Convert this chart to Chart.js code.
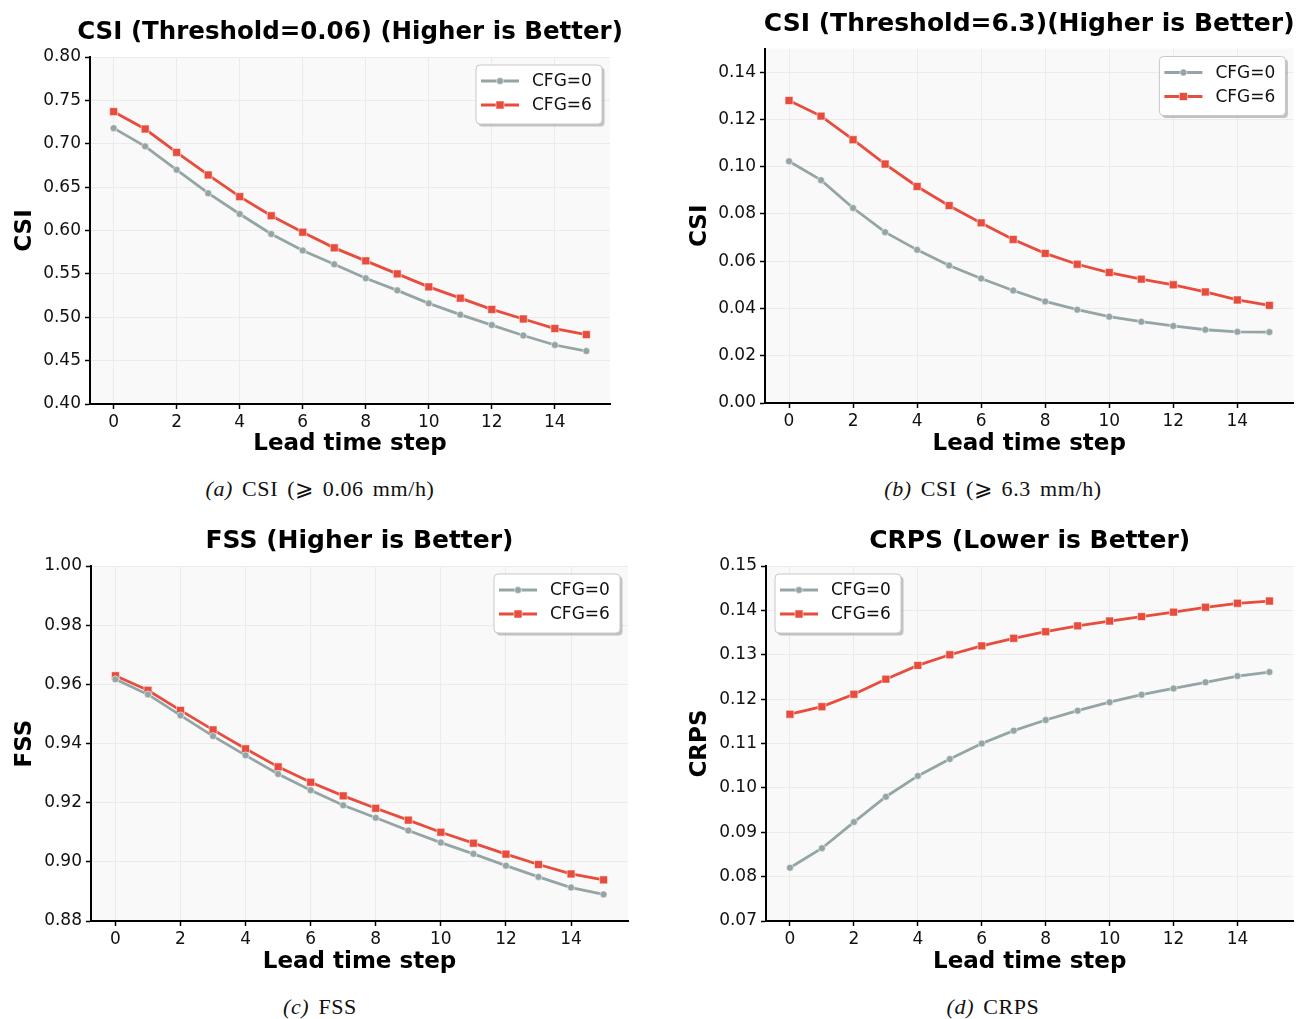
<!DOCTYPE html>
<html>
<head>
<meta charset="utf-8">
<title>CFG comparison</title>
<script src="https://cdn.jsdelivr.net/npm/chart.js@4.4.1/dist/chart.umd.min.js"></script>
<style>
  body { margin: 0; background: #fff; width: 1300px; height: 1019px; position: relative; overflow: hidden; }
  canvas { position: absolute; }
  .cap {
    position: absolute; width: 640px; text-align: center;
    font-family: "Liberation Serif", "DejaVu Serif", serif; font-size: 22px; line-height: 24px; color: #111;
    letter-spacing: 0.6px; word-spacing: 3px;
  }
</style>
</head>
<body>
<canvas id="csiLow" width="645" height="460" style="left:0;top:0"></canvas>
<canvas id="csiHigh" width="625" height="460" style="left:675px;top:0"></canvas>
<canvas id="fss" width="645" height="470" style="left:0;top:508px"></canvas>
<canvas id="crps" width="625" height="470" style="left:675px;top:508px"></canvas>

<div class="cap" style="left:0;top:477px"><i>(a)</i> CSI (⩾ 0.06 mm/h)</div>
<div class="cap" style="left:673px;top:477px"><i>(b)</i> CSI (⩾ 6.3 mm/h)</div>
<div class="cap" style="left:0;top:995px"><i>(c)</i> FSS</div>
<div class="cap" style="left:673px;top:995px"><i>(d)</i> CRPS</div>

<script>
// lead time steps shared by all four panels
const steps = [0, 1, 2, 3, 4, 5, 6, 7, 8, 9, 10, 11, 12, 13, 14, 15];
const xTicks = [0, 2, 4, 6, 8, 10, 12, 14];
const seriesNames = ["CFG=0", "CFG=6"];

// (a) CSI threshold 0.06
const csiLowCfg0 = [0.718, 0.697, 0.670, 0.643, 0.619, 0.596, 0.577, 0.561, 0.545, 0.531, 0.516, 0.503, 0.491, 0.479, 0.468, 0.461];
const csiLowCfg6 = [0.737, 0.717, 0.690, 0.664, 0.639, 0.617, 0.598, 0.580, 0.565, 0.550, 0.535, 0.522, 0.509, 0.498, 0.487, 0.480];
const csiLowTicks = [0.40, 0.45, 0.50, 0.55, 0.60, 0.65, 0.70, 0.75, 0.80];

// (b) CSI threshold 6.3
const csiHighCfg0 = [0.1023, 0.0943, 0.0825, 0.0723, 0.0648, 0.0582, 0.0527, 0.0476, 0.0430, 0.0395, 0.0365, 0.0344, 0.0326, 0.0310, 0.0301, 0.0300];
const csiHighCfg6 = [0.1280, 0.1214, 0.1114, 0.1011, 0.0916, 0.0835, 0.0762, 0.0692, 0.0633, 0.0587, 0.0552, 0.0524, 0.0500, 0.0470, 0.0436, 0.0413];
const csiHighTicks = [0.00, 0.02, 0.04, 0.06, 0.08, 0.10, 0.12, 0.14];

// (c) FSS
const fssCfg0 = [0.9617, 0.9566, 0.9495, 0.9425, 0.9360, 0.9297, 0.9242, 0.9191, 0.9149, 0.9106, 0.9065, 0.9027, 0.8987, 0.8949, 0.8913, 0.8890];
const fssCfg6 = [0.9629, 0.9580, 0.9512, 0.9446, 0.9382, 0.9321, 0.9269, 0.9223, 0.9181, 0.9141, 0.9100, 0.9063, 0.9026, 0.8991, 0.8959, 0.8939];
const fssTicks = [0.88, 0.90, 0.92, 0.94, 0.96, 0.98, 1.00];

// (d) CRPS
const crpsCfg0 = [0.0820, 0.0864, 0.0923, 0.0980, 0.1027, 0.1065, 0.1100, 0.1129, 0.1153, 0.1174, 0.1193, 0.1210, 0.1224, 0.1238, 0.1252, 0.1261];
const crpsCfg6 = [0.1166, 0.1183, 0.1211, 0.1245, 0.1276, 0.1300, 0.1320, 0.1337, 0.1352, 0.1365, 0.1376, 0.1386, 0.1396, 0.1407, 0.1416, 0.1421];
const crpsTicks = [0.07, 0.08, 0.09, 0.10, 0.11, 0.12, 0.13, 0.14, 0.15];

const GREY = "#95a5a6";
const RED = "#e74c3c";
const SANS = "'DejaVu Sans', sans-serif";

// light grey face behind the plot, like the matplotlib style
const plotFace = {
  id: "plotFace",
  beforeDraw(chart) {
    const { ctx, chartArea: a } = chart;
    ctx.save();
    ctx.fillStyle = "#f9f9f9";
    ctx.fillRect(a.left, a.top, a.right - a.left, a.bottom - a.top);
    ctx.restore();
  }
};

// panel title centred over the plot area; the built-in title squeezes long text
const panelTitle = {
  id: "panelTitle",
  afterDraw(chart, args, opts) {
    const { ctx, chartArea: a } = chart;
    ctx.save();
    ctx.fillStyle = "#000";
    ctx.font = "bold " + opts.size + "px " + SANS;
    ctx.textAlign = "center";
    ctx.textBaseline = "middle";
    ctx.fillText(opts.text, (a.left + a.right) / 2, opts.y);
    ctx.restore();
  }
};

function drawMarker(ctx, style, x, y, color) {
  ctx.fillStyle = color;
  ctx.strokeStyle = "rgba(255,255,255,0.55)";
  ctx.lineWidth = 1;
  ctx.beginPath();
  if (style === "rect") {
    ctx.rect(x - 4, y - 4, 8, 8);
  } else {
    ctx.arc(x, y, 3.5, 0, Math.PI * 2);
  }
  ctx.fill();
  ctx.stroke();
}

// boxed legend drawn inside the plot area
const boxLegend = {
  id: "boxLegend",
  afterDatasetsDraw(chart, args, opts) {
    const { ctx, chartArea: a } = chart;
    const w = 126, h = 59, m = 8;
    const x0 = opts.side === "left" ? a.left + m + 1 : a.right - m - w;
    const y0 = a.top + m;
    ctx.save();
    ctx.fillStyle = "rgba(0,0,0,0.22)";
    ctx.beginPath();
    ctx.roundRect(x0 + 2.5, y0 + 2.5, w, h, 4);
    ctx.fill();
    ctx.fillStyle = "#fff";
    ctx.strokeStyle = "#c8c8c8";
    ctx.lineWidth = 1;
    ctx.beginPath();
    ctx.roundRect(x0, y0, w, h, 4);
    ctx.fill();
    ctx.stroke();

    chart.data.datasets.forEach((ds, i) => {
      const ry = y0 + 16 + i * 24;
      ctx.strokeStyle = ds.borderColor;
      ctx.lineWidth = 2.8;
      ctx.beginPath();
      ctx.moveTo(x0 + 5, ry);
      ctx.lineTo(x0 + 43, ry);
      ctx.stroke();
      drawMarker(ctx, ds.pointStyle, x0 + 24, ry, ds.borderColor);
      ctx.fillStyle = "#111";
      ctx.font = "17px " + SANS;
      ctx.textBaseline = "middle";
      ctx.textAlign = "left";
      ctx.fillText(ds.label, x0 + 56, ry + 1);
    });
    ctx.restore();
  }
};

function makeChart(id, opt) {
  const ctx = document.getElementById(id).getContext("2d");
  const series = [opt.cfg0, opt.cfg6];
  const axisTitleFont = { family: SANS, size: 23, weight: "bold", lineHeight: 1.2 };
  return new Chart(ctx, {
    type: "line",
    data: {
      datasets: series.map((vals, i) => ({
        label: seriesNames[i],
        data: steps.map((s, j) => ({ x: s, y: vals[j] })),
        borderColor: i === 0 ? GREY : RED,
        backgroundColor: i === 0 ? GREY : RED,
        borderWidth: 2.8,
        pointStyle: i === 0 ? "circle" : "rect",
        pointRadius: i === 0 ? 3.5 : 5.6,
        pointBorderWidth: 1,
        pointBorderColor: "rgba(255,255,255,0.55)",
        tension: 0
      }))
    },
    options: {
      responsive: false,
      animation: false,
      devicePixelRatio: 1,
      layout: { padding: { left: 0, right: opt.padRight, top: opt.plotTop, bottom: 0 } },
      plugins: {
        legend: { display: false },
        tooltip: { enabled: false },
        title: { display: false },
        panelTitle: { text: opt.title, y: opt.titleY, size: opt.titleSize },
        boxLegend: { side: opt.legendSide }
      },
      scales: {
        x: {
          type: "linear",
          min: -0.75,
          max: 15.75,
          afterBuildTicks: (s) => { s.ticks = xTicks.map((v) => ({ value: v })); },
          afterFit: (s) => { s.height = opt.xAxisH; },
          ticks: { color: "#111", font: { family: SANS, size: 17 }, padding: 3, maxRotation: 0 },
          grid: { color: "#ebebeb", lineWidth: 1, tickLength: 5, tickColor: "#000", tickWidth: 1.5 },
          border: { display: true, color: "#000", width: 2 },
          title: {
            display: true,
            text: "Lead time step",
            color: "#000",
            font: axisTitleFont,
            padding: { top: 0, bottom: 2 }
          }
        },
        y: {
          min: opt.yMin,
          max: opt.yMax,
          afterBuildTicks: (s) => { s.ticks = opt.yTicks.map((v) => ({ value: v })); },
          afterFit: (s) => { s.width = opt.yAxisW; },
          ticks: {
            color: "#111",
            font: { family: SANS, size: 17 },
            padding: 4,
            callback: (v) => v.toFixed(2)
          },
          grid: { color: "#ebebeb", lineWidth: 1, tickLength: 5, tickColor: "#000", tickWidth: 1.5 },
          border: { display: true, color: "#000", width: 2 },
          title: {
            display: true,
            text: opt.yLabel,
            color: "#000",
            font: axisTitleFont,
            padding: { top: 11, bottom: 0 }
          }
        }
      }
    },
    plugins: [plotFace, boxLegend, panelTitle]
  });
}

document.addEventListener("DOMContentLoaded", () => {
  makeChart("csiLow", {
    title: "CSI (Threshold=0.06) (Higher is Better)",
    yLabel: "CSI",
    cfg0: csiLowCfg0, cfg6: csiLowCfg6,
    yMin: 0.40, yMax: 0.80, yTicks: csiLowTicks,
    plotTop: 57, titleY: 33, titleSize: 24.5,
    yAxisW: 90, xAxisH: 56, padRight: 35,
    legendSide: "right"
  });

  makeChart("csiHigh", {
    title: "CSI (Threshold=6.3)(Higher is Better)",
    yLabel: "CSI",
    cfg0: csiHighCfg0, cfg6: csiHighCfg6,
    yMin: 0, yMax: 0.15, yTicks: csiHighTicks,
    plotTop: 48.5, titleY: 24, titleSize: 25,
    yAxisW: 90, xAxisH: 57, padRight: 4,
    legendSide: "right"
  });

  makeChart("fss", {
    title: "FSS (Higher is Better)",
    yLabel: "FSS",
    cfg0: fssCfg0, cfg6: fssCfg6,
    yMin: 0.88, yMax: 1.00, yTicks: fssTicks,
    plotTop: 58, titleY: 33, titleSize: 25,
    yAxisW: 91, xAxisH: 57, padRight: 17,
    legendSide: "right"
  });

  makeChart("crps", {
    title: "CRPS (Lower is Better)",
    yLabel: "CRPS",
    cfg0: crpsCfg0, cfg6: crpsCfg6,
    yMin: 0.07, yMax: 0.15, yTicks: crpsTicks,
    plotTop: 58, titleY: 33, titleSize: 25,
    yAxisW: 91, xAxisH: 57, padRight: 3,
    legendSide: "left"
  });
});
</script>
</body>
</html>
